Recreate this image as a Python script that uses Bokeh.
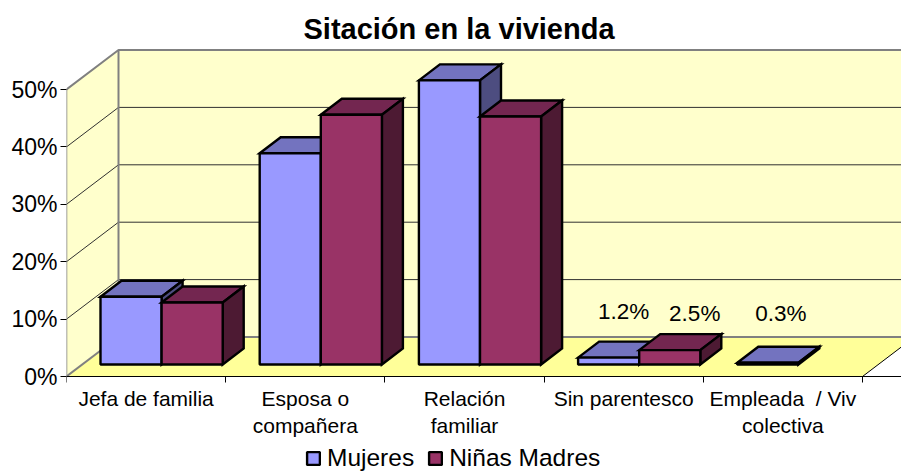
from bokeh.plotting import figure
from bokeh.models import (ColumnDataSource, FixedTicker, Legend, LegendItem)
from bokeh.embed import file_html
from bokeh.resources import INLINE
from bokeh.core.properties import value

# ---- data ----
categories = ["Jefa de familia", "Esposa o\ncompañera", "Relación\nfamiliar",
              "Sin parentesco", "Empleada\u00a0 / Viv\ncolectiva"]
mujeres = [11.8, 36.8, 49.5, 1.2, 0.3]
ninas = [10.8, 43.5, 43.2, 2.5, None]
y_ticks = [0, 10, 20, 30, 40, 50]
title = "Sitación en la vivienda"
series_names = ["Mujeres", "Niñas Madres"]

# ---- style ----
FONT = "Liberation Sans"
C_M = ("#9999FF", "#7373BF", "#4D4D80")
C_N = ("#993366", "#732650", "#4D1A33")
WALL, FLOOR, EDGE = "#FFFFCC", "#FFFF99", "#808080"

# ---- scales: pixels per unit on each axis ----
PX_CAT = 159.2
PX_PCT = 5.74
n = len(categories)
FRAME_W, FRAME_ABOVE, FRAME_BELOW = 835, 332, 95
X_END = FRAME_W / PX_CAT
WALL_DX, WALL_DY = 52 / PX_CAT, 39.5 / PX_PCT      # depth of the room
BASE_DX, BASE_DY = 15.5 / PX_CAT, 12 / PX_PCT      # front of bars inside the room
BAR_DX, BAR_DY = 21 / PX_CAT, 16 / PX_PCT          # depth of each bar
GAP = 18.5 / PX_CAT
BAR_W = (1 - 2 * GAP) / 2

p = figure(width=901, height=471, output_backend="svg", toolbar_location=None,
           x_range=(0, X_END), y_range=(-FRAME_BELOW / PX_PCT, FRAME_ABOVE / PX_PCT),
           min_border_left=66, min_border_right=0, min_border_top=44, min_border_bottom=0,
           outline_line_color=None, background_fill_color="white")
p.grid.visible = False

p.title.text = title
p.title.text_font = FONT
p.title.text_font_size = "29px"
p.title.text_font_style = "bold"
p.title.text_color = "black"
p.title.align = "left"
p.title.offset = 237
p.title.standoff = 0

# ---- room ----
top = y_ticks[-1]
p.patch([0, WALL_DX, WALL_DX, 0], [0, WALL_DY, top + WALL_DY, top], fill_color=WALL, line_color=None)
p.quad(left=WALL_DX, right=n + WALL_DX, bottom=WALL_DY, top=top + WALL_DY, fill_color=WALL, line_color=None)
p.patch([0, n, n + WALL_DX, WALL_DX], [0, 0, WALL_DY, WALL_DY], fill_color=FLOOR, line_color=None)

grid = y_ticks[1:-1]
p.multi_line([[0, WALL_DX, n + WALL_DX] for _ in grid],
             [[t, t + WALL_DY, t + WALL_DY] for t in grid],
             line_color="#303030", line_width=1)
p.line([0, 0], [0, top], line_color=EDGE, line_width=1.5)
p.line([0, WALL_DX], [0, WALL_DY], line_color=EDGE, line_width=2)
p.line([0, WALL_DX, n + WALL_DX], [top, top + WALL_DY, top + WALL_DY], line_color=EDGE, line_width=2)
p.line([WALL_DX, WALL_DX, n + WALL_DX], [top + WALL_DY, WALL_DY, WALL_DY], line_color=EDGE, line_width=2)
p.line([n, n + WALL_DX], [0, WALL_DY], line_color="black", line_width=1)

# ---- bars ----
legend_renderers = []
for i in range(n):
    for j, (vals, cols) in enumerate(((mujeres, C_M), (ninas, C_N))):
        v = vals[i]
        if v is None:
            continue
        x0 = i + BASE_DX + GAP + j * BAR_W
        x1 = x0 + BAR_W
        y0 = BASE_DY
        y1 = BASE_DY + v
        p.patch([x0, x0 + BAR_DX, x1 + BAR_DX, x1], [y1, y1 + BAR_DY, y1 + BAR_DY, y1],
                fill_color=cols[1], line_color="black", line_width=2.4, line_join="miter")
        p.patch([x1, x1 + BAR_DX, x1 + BAR_DX, x1], [y0, y0 + BAR_DY, y1 + BAR_DY, y1],
                fill_color=cols[2], line_color="black", line_width=2.4, line_join="miter")
        r = p.quad(left=x0, right=x1, bottom=y0, top=y1,
                   fill_color=cols[0], line_color="black", line_width=2.4)
        if i == 0:
            legend_renderers.append(r)

# ---- value labels on the small bars ----
lab_x, lab_y, lab_text, lab_dx, lab_dy = [], [], [], [], []
placements = [(3, 0, mujeres, 15, 46), (3, 1, ninas, 25, 37), (4, 0, mujeres, 13, 49)]
for i, j, vals, dx, dy in placements:
    v = vals[i]
    lab_x.append(i + BASE_DX + GAP + (j + 0.5) * BAR_W)
    lab_y.append(BASE_DY + v)
    lab_text.append(f"{v:.1f}%")
    lab_dx.append(dx)
    lab_dy.append(-dy)
p.text(x="x", y="y", text="t", x_offset="dx", y_offset="dy",
       source=ColumnDataSource(dict(x=lab_x, y=lab_y, t=lab_text, dx=lab_dx, dy=lab_dy)),
       text_font=value(FONT), text_font_size="22.5px", text_color="black",
       text_align="center", text_baseline="middle")

# ---- axes ----
xa = p.xaxis[0]
xa.fixed_location = 0
xa.ticker = FixedTicker(ticks=[i + 0.5 for i in range(n)], minor_ticks=list(range(n + 1)))
xa.major_label_overrides = {i + 0.5: c for i, c in enumerate(categories)}
xa.major_tick_in = 0
xa.major_tick_out = 0
xa.minor_tick_in = 0
xa.minor_tick_out = 6
xa.minor_tick_line_color = "black"
xa.axis_line_color = "black"
xa.major_label_text_font = FONT
xa.major_label_text_font_size = "21px"
xa.major_label_text_color = "black"
xa.major_label_standoff = 4

ya = p.yaxis[0]
ya.ticker = FixedTicker(ticks=y_ticks)
ya.major_label_overrides = {t: f"{t}%" for t in y_ticks}
ya.major_tick_in = 0
ya.major_tick_out = 6
ya.major_tick_line_color = "black"
ya.minor_tick_line_color = None
ya.axis_line_color = None
ya.major_label_text_font = FONT
ya.major_label_text_font_size = "23px"
ya.major_label_text_color = "black"
ya.major_label_standoff = 3

# ---- legend ----
items = [LegendItem(label=name, renderers=[r]) for name, r in zip(series_names, legend_renderers)]
legend = Legend(items=items, orientation="horizontal", border_line_color=None,
                background_fill_alpha=0, glyph_width=16, glyph_height=16, label_standoff=6,
                spacing=13, padding=0, margin=0, label_text_font=FONT,
                label_text_font_size="24.5px", label_text_color="black", location=(239, -1))
p.add_layout(legend, "center")

open("out.html", "w").write(file_html(p, INLINE))
